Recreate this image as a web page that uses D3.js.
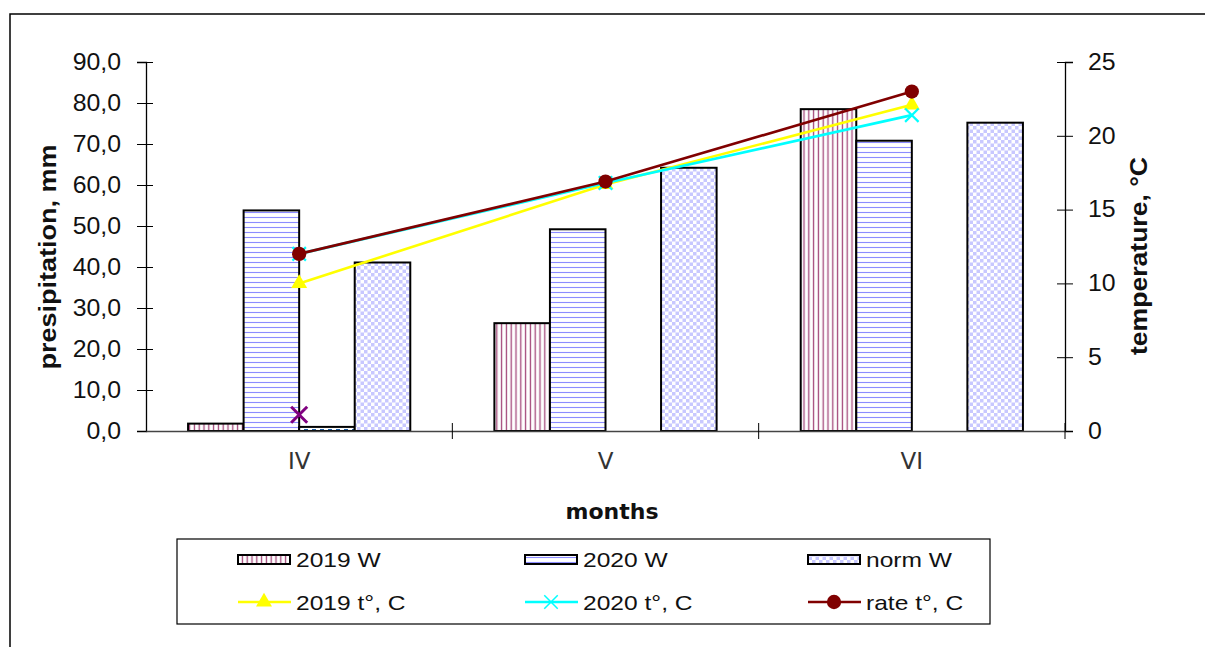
<!DOCTYPE html>
<html><head><meta charset="utf-8">
<script src="https://cdn.jsdelivr.net/npm/d3@7"></script>
<style>html,body{margin:0;padding:0;background:#fff}svg{display:block}</style>
</head><body>
<script>
const months = ["IV", "V", "VI"];
const precip2019 = [1.8, 26.3, 78.5];
const precip2020 = [53.8, 49.2, 70.8];
const precipExtra = [1.0, 0, 0];
const precipNorm = [41.1, 64.2, 75.2];
const temp2019 = [10.0, 16.7, 22.1];
const temp2020 = [12.0, 16.8, 21.4];
const tempRate = [12.0, 16.9, 23.0];
const tempExtra = [1.1, null, null];
const precipTicks = [0, 10, 20, 30, 40, 50, 60, 70, 80, 90];
const tempTicks = [0, 5, 10, 15, 20, 25];
const barSeries = ["2019 W", "2020 W", "extra", "norm W"];
const lineSeries = ["2019 t°, C", "2020 t°, C", "rate t°, C"];

const W = 1205, H = 647;
const L = 146, R = 1065, T = 62, B = 431;
const svg = d3.select("body").append("svg").attr("width", W).attr("height", H);
svg.append("rect").attr("width", W).attr("height", H).attr("fill", "#fff");
svg.append("rect").attr("x", 10).attr("y", 14).attr("width", 1300).attr("height", 800)
  .attr("fill", "none").attr("stroke", "#000").attr("stroke-width", 1.5);

const defs = svg.append("defs");
let p = defs.append("pattern").attr("id", "pV").attr("patternUnits", "userSpaceOnUse").attr("width", 4.8).attr("height", 10);
p.append("rect").attr("width", 4.8).attr("height", 10).attr("fill", "#fff");
p.append("line").attr("x1", 2.4).attr("x2", 2.4).attr("y1", 0).attr("y2", 10).attr("stroke", "#a3467a").attr("stroke-width", 1.3);
p = defs.append("pattern").attr("id", "pH").attr("patternUnits", "userSpaceOnUse").attr("width", 10).attr("height", 5);
p.append("rect").attr("width", 10).attr("height", 5).attr("fill", "#fff");
p.append("line").attr("x1", 0).attr("x2", 10).attr("y1", 2.5).attr("y2", 2.5).attr("stroke", "#8c8cff").attr("stroke-width", 1.1);
p = defs.append("pattern").attr("id", "pC").attr("patternUnits", "userSpaceOnUse").attr("width", 7).attr("height", 7);
p.append("rect").attr("width", 7).attr("height", 7).attr("fill", "#fff");
p.append("rect").attr("width", 3.5).attr("height", 3.5).attr("fill", "#c8c8ff");
p.append("rect").attr("x", 3.5).attr("y", 3.5).attr("width", 3.5).attr("height", 3.5).attr("fill", "#c8c8ff");
p = defs.append("pattern").attr("id", "pD").attr("patternUnits", "userSpaceOnUse").attr("width", 8).attr("height", 4);
p.append("rect").attr("width", 8).attr("height", 4).attr("fill", "#fff");
p.append("rect").attr("x", 0).attr("y", 1).attr("width", 4).attr("height", 2).attr("fill", "#1d5fa8");

const fills = {"2019 W": "url(#pV)", "2020 W": "url(#pH)", "extra": "url(#pD)", "norm W": "url(#pC)"};
const barData = {"2019 W": precip2019, "2020 W": precip2020, "extra": precipExtra, "norm W": precipNorm};

const x0 = d3.scaleBand().domain(months).range([L, R]).padding(0);
const bw = x0.bandwidth();
const gOff = bw * 0.1373;
const x1 = d3.scaleBand().domain(barSeries).range([gOff, bw - gOff]).padding(0);
const yP = d3.scaleLinear().domain([0, 90]).range([B, T]);
const yT = d3.scaleLinear().domain([0, 25]).range([B, T]);

function stretch(sel, f) {
  sel.each(function() {
    const len = this.getComputedTextLength();
    d3.select(this).attr("textLength", len * f).attr("lengthAdjust", "spacingAndGlyphs");
  });
}

months.forEach((m, i) => {
  barSeries.forEach(s => {
    const v = barData[s][i];
    if (!v) return;
    svg.append("rect")
      .attr("x", x0(m) + x1(s)).attr("y", yP(v))
      .attr("width", x1.bandwidth()).attr("height", yP(0) - yP(v))
      .attr("fill", fills[s]).attr("stroke", "#000").attr("stroke-width", 2);
  });
});

const axL = svg.append("g").attr("transform", `translate(${L},0)`)
  .call(d3.axisLeft(yP).tickValues(precipTicks).tickSize(9).tickPadding(16)
    .tickFormat(d => d3.format(".1f")(d).replace(".", ",")));
axL.select(".domain").attr("stroke", "#000").attr("stroke-width", 1.3);
axL.selectAll(".tick line").attr("x1", 7).attr("x2", -9).attr("stroke", "#000");
axL.selectAll("text").attr("font-family", "Liberation Sans, Arial, sans-serif").attr("font-size", 23).attr("fill", "#111");
stretch(axL.selectAll("text"), 1.08);

const axR = svg.append("g").attr("transform", `translate(${R},0)`)
  .call(d3.axisRight(yT).tickValues(tempTicks).tickSize(8).tickPadding(15));
axR.select(".domain").attr("stroke", "#000").attr("stroke-width", 1.3);
axR.selectAll(".tick line").attr("x1", -8).attr("x2", 8).attr("stroke", "#000");
axR.selectAll("text").attr("font-family", "Liberation Sans, Arial, sans-serif").attr("font-size", 23).attr("fill", "#111");
stretch(axR.selectAll("text"), 1.08);

const axB = svg.append("g").attr("transform", `translate(0,${B})`)
  .call(d3.axisBottom(x0).tickSize(0).tickPadding(22));
axB.select(".domain").attr("stroke", "#444").attr("stroke-width", 1.3);
axB.selectAll("text").attr("font-family", "DejaVu Sans, sans-serif").attr("font-size", 23).attr("fill", "#333");
const bounds = months.slice(1).map(m => x0(m)).concat([x0.range()[1]]);
svg.selectAll(".btick").data(bounds).enter().append("line")
  .attr("x1", d => d).attr("x2", d => d).attr("y1", B - 8).attr("y2", B + 8)
  .attr("stroke", "#000").attr("stroke-width", 1);

svg.append("text").attr("x", 612).attr("y", 519).attr("text-anchor", "middle")
  .attr("font-family", "DejaVu Sans, sans-serif").attr("font-weight", "bold").attr("font-size", 22)
  .attr("fill", "#111").text("months");
const tl = svg.append("text").attr("transform", "translate(56,257) rotate(-90)").attr("text-anchor", "middle")
  .attr("font-family", "Liberation Sans, Arial, sans-serif").attr("font-weight", "bold").attr("font-size", 24)
  .attr("fill", "#111").text("presipitation, mm");
tl.attr("textLength", 225).attr("lengthAdjust", "spacingAndGlyphs");
const tr = svg.append("text").attr("transform", "translate(1147,256) rotate(-90)").attr("text-anchor", "middle")
  .attr("font-family", "Liberation Sans, Arial, sans-serif").attr("font-weight", "bold").attr("font-size", 24)
  .attr("fill", "#111").text("temperature, °C");
tr.attr("textLength", 198).attr("lengthAdjust", "spacingAndGlyphs");

const cx = m => x0(m) + bw / 2;
const tri = d3.symbol().type(d3.symbolTriangle).size(110);
const cross = d3.symbol().type(d3.symbolX).size(120);
const bigCross = d3.symbol().type(d3.symbolX).size(170);
const circ = d3.symbol().type(d3.symbolCircle).size(160);
const lineGen = d3.line().defined(d => d.v != null).x(d => cx(d.m)).y(d => yT(d.v));
function drawLine(vals, color, sym, symStyle, sw) {
  const data = months.map((m, i) => ({m, v: vals[i]}));
  svg.append("path").datum(data).attr("d", lineGen).attr("fill", "none").attr("stroke", color).attr("stroke-width", 2.6);
  svg.selectAll(null).data(data.filter(d => d.v != null)).enter().append("path")
    .attr("transform", d => `translate(${cx(d.m)},${yT(d.v)})`).attr("d", sym)
    .attr("fill", symStyle === "stroke" ? "none" : color)
    .attr("stroke", color).attr("stroke-width", symStyle === "stroke" ? sw : 0);
}
drawLine(temp2019, "#ffff00", tri, "fill", 0);
drawLine(temp2020, "#00ffff", cross, "stroke", 2.2);
drawLine(tempExtra, "#800080", bigCross, "stroke", 3);
drawLine(tempRate, "#800000", circ, "fill", 0);

svg.append("rect").attr("x", 177).attr("y", 539).attr("width", 813).attr("height", 85)
  .attr("fill", "#fff").attr("stroke", "#000").attr("stroke-width", 1.2);
const legCols = [238, 525, 808];
const legendBars = ["2019 W", "2020 W", "norm W"];
legendBars.forEach((s, i) => {
  svg.append("rect").attr("x", legCols[i]).attr("y", 555).attr("width", 52).attr("height", 9)
    .attr("fill", fills[s]).attr("stroke", "#000").attr("stroke-width", 2);
  const t = svg.append("text").attr("x", legCols[i] + 58).attr("y", 567)
    .attr("font-family", "Liberation Sans, Arial, sans-serif").attr("font-size", 21).attr("fill", "#111").text(s);
  stretch(t, 1.17);
});
const legLines = [
  {name: lineSeries[0], color: "#ffff00", sym: tri, st: "fill"},
  {name: lineSeries[1], color: "#00ffff", sym: cross, st: "stroke"},
  {name: lineSeries[2], color: "#800000", sym: circ, st: "fill"}
];
legLines.forEach((d, i) => {
  const x = legCols[i];
  svg.append("line").attr("x1", x).attr("x2", x + 53).attr("y1", 602).attr("y2", 602)
    .attr("stroke", d.color).attr("stroke-width", 2.6);
  svg.append("path").attr("transform", `translate(${x + 26},602)`).attr("d", d.sym)
    .attr("fill", d.st === "stroke" ? "none" : d.color).attr("stroke", d.color).attr("stroke-width", d.st === "stroke" ? 1.5 : 0);
  const t = svg.append("text").attr("x", x + 58).attr("y", 610)
    .attr("font-family", "Liberation Sans, Arial, sans-serif").attr("font-size", 21).attr("fill", "#111").text(d.name);
  stretch(t, 1.17);
});
</script>
</body></html>
